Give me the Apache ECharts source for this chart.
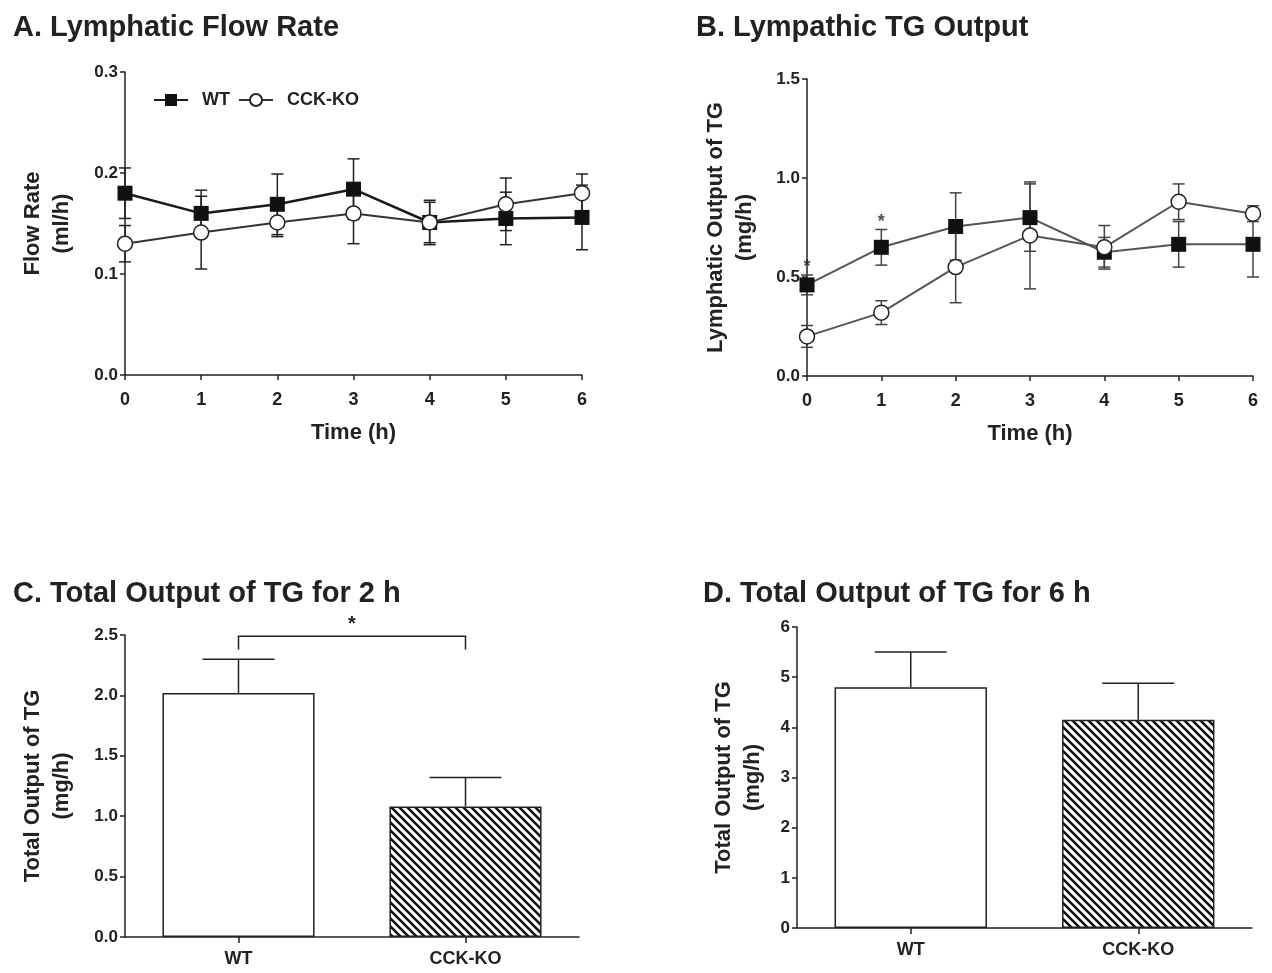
<!DOCTYPE html>
<html>
<head>
<meta charset="utf-8">
<script src="https://cdn.jsdelivr.net/npm/echarts@6/dist/echarts.min.js"></script>
<style>
html, body { margin: 0; padding: 0; background: #fff; }
#main { width: 1272px; height: 973px; }
</style>
</head>
<body>
<div id="main"></div>
<script>
// time points (h)
var hours = [0, 1, 2, 3, 4, 5, 6];

// A. lymphatic flow rate (ml/h), mean and SEM
var flowWT = [0.180, 0.160, 0.169, 0.184, 0.151, 0.155, 0.156];
var flowWTsem = [0.025, 0.023, 0.030, 0.030, 0.022, 0.026, 0.032];
var flowKO = [0.130, 0.141, 0.151, 0.160, 0.151, 0.169, 0.180];
var flowKOsem = [0.018, 0.036, 0.014, 0.030, 0.020, 0.026, 0.019];

// B. lymphatic TG output (mg/h)
var tgWT = [0.46, 0.65, 0.755, 0.80, 0.625, 0.665, 0.665];
var tgWTsem = [0.05, 0.09, 0.17, 0.17, 0.075, 0.115, 0.165];
var tgKO = [0.20, 0.32, 0.55, 0.71, 0.65, 0.88, 0.82];
var tgKOsem = [0.055, 0.06, 0.18, 0.27, 0.11, 0.09, 0.04];
var sigHours = [0, 1];

// C / D. total output of TG
var groups = ['WT', 'CCK-KO'];
var total2h = [2.02, 1.08];
var total2hSem = [0.28, 0.24];
var total6h = [4.80, 4.15];
var total6hSem = [0.70, 0.73];

var ink = '#222';
var font = 'Liberation Sans, Arial, sans-serif';

// hatch pattern for the CCK-KO bars
var hatch = document.createElement('canvas');
hatch.width = 8;
hatch.height = 8;
var hc = hatch.getContext('2d');
hc.fillStyle = '#fff';
hc.fillRect(0, 0, 8, 8);
hc.strokeStyle = '#111';
hc.lineWidth = 2.6;
hc.beginPath();
hc.moveTo(-2, -2); hc.lineTo(10, 10);
hc.moveTo(-10, -2); hc.lineTo(2, 10);
hc.moveTo(6, -2); hc.lineTo(18, 10);
hc.stroke();

function errData(xs, means, sems, upOnly) {
    return xs.map(function(x, i) {
        return [x, upOnly ? means[i] : means[i] - sems[i], means[i] + sems[i]];
    });
}

function errRender(capHalf, upOnly, col) {
    return function(params, api) {
        var x = api.value(0);
        var lo = api.coord([x, api.value(1)]);
        var hi = api.coord([x, api.value(2)]);
        var st = { stroke: col, lineWidth: 1.5 };
        var kids = [
            { type: 'line', shape: { x1: lo[0], y1: lo[1], x2: hi[0], y2: hi[1] }, style: st },
            { type: 'line', shape: { x1: hi[0] - capHalf, y1: hi[1], x2: hi[0] + capHalf, y2: hi[1] }, style: st }
        ];
        if (!upOnly) {
            kids.push({ type: 'line', shape: { x1: lo[0] - capHalf, y1: lo[1], x2: lo[0] + capHalf, y2: lo[1] }, style: st });
        }
        return { type: 'group', children: kids };
    };
}

function valAxis(idx, min, max, step, digits, name, gap) {
    return {
        type: 'value', gridIndex: idx, min: min, max: max, interval: step,
        name: name, nameLocation: 'middle', nameGap: gap, nameRotate: 90,
        nameTextStyle: { color: ink, fontFamily: font, fontWeight: 'bold', fontSize: 22, lineHeight: 29 },
        axisLine: { show: true, lineStyle: { color: ink, width: 1.5 } },
        axisTick: { show: true, length: 5, lineStyle: { color: ink, width: 1.5 } },
        axisLabel: { color: ink, fontFamily: font, fontWeight: 'bold', fontSize: 17, margin: 7,
            formatter: function(v) { return v.toFixed(digits); } },
        splitLine: { show: false }
    };
}

function timeAxis(idx) {
    return {
        type: 'value', gridIndex: idx, min: 0, max: 6, interval: 1,
        name: 'Time (h)', nameLocation: 'middle', nameGap: 47,
        nameTextStyle: { color: ink, fontFamily: font, fontWeight: 'bold', fontSize: 22 },
        axisLine: { show: true, onZero: false, lineStyle: { color: ink, width: 1.5 } },
        axisTick: { show: true, length: 5, lineStyle: { color: ink, width: 1.5 } },
        axisLabel: { color: ink, fontFamily: font, fontWeight: 'bold', fontSize: 18, margin: 16 },
        splitLine: { show: false }
    };
}

function catAxis(idx) {
    return {
        type: 'category', gridIndex: idx, data: groups,
        axisLine: { show: true, lineStyle: { color: ink, width: 1.5 } },
        axisTick: { show: true, alignWithLabel: true, length: 6, lineStyle: { color: ink, width: 1.5 } },
        axisLabel: { color: ink, fontFamily: font, fontWeight: 'bold', fontSize: 18, margin: 13 }
    };
}

function lineSeries(name, idx, ys, filled, lw, col) {
    return {
        name: name, type: 'line', xAxisIndex: idx, yAxisIndex: idx, z: 3,
        data: hours.map(function(h, i) { return [h, ys[i]]; }),
        symbol: filled ? 'rect' : 'circle', symbolSize: 15,
        lineStyle: { color: col, width: lw },
        itemStyle: { color: filled ? '#111' : '#fff', borderColor: ink, borderWidth: filled ? 0 : 1.5 }
    };
}

function errSeries(idx, xs, means, sems, upOnly, capHalf, col) {
    return {
        type: 'custom', xAxisIndex: idx, yAxisIndex: idx, z: 2, silent: true,
        data: errData(xs, means, sems, upOnly),
        renderItem: errRender(capHalf, upOnly, col || ink)
    };
}

function barSeries(idx, vals) {
    return {
        type: 'bar', xAxisIndex: idx, yAxisIndex: idx, barWidth: '67%', z: 2,
        data: vals.map(function(v, i) {
            return { value: v, itemStyle: { color: i === 0 ? '#fff' : { image: hatch, repeat: 'repeat' } } };
        }),
        itemStyle: { borderColor: ink, borderWidth: 1.5 }
    };
}

var titleStyle = { color: ink, fontFamily: font, fontWeight: 'bold', fontSize: 29 };

var myChart = echarts.init(document.getElementById('main'));
var option = {
    backgroundColor: '#fff',
    animation: false,
    title: [
        { text: 'A. Lymphatic Flow Rate', left: 8, top: 8, textStyle: titleStyle },
        { text: 'B. Lympathic TG Output', left: 691, top: 8, textStyle: titleStyle },
        { text: 'C. Total Output of TG for 2 h', left: 8, top: 574, textStyle: titleStyle },
        { text: 'D. Total Output of TG for 6 h', left: 698, top: 574, textStyle: titleStyle }
    ],
    legend: {
        left: 148, top: 86, itemWidth: 34, itemHeight: 15, itemGap: 8,
        data: ['WT', 'CCK-KO'],
        textStyle: { color: ink, fontFamily: font, fontWeight: 'bold', fontSize: 18, padding: [0, 0, 0, 9] }
    },
    grid: [
        { left: 125, right: 690, top: 72, bottom: 598, outerBoundsMode: 'none' },
        { left: 807, right: 19, top: 79, bottom: 597, outerBoundsMode: 'none' },
        { left: 125, right: 693, top: 635, bottom: 36, outerBoundsMode: 'none' },
        { left: 797, right: 20, top: 627, bottom: 45, outerBoundsMode: 'none' }
    ],
    xAxis: [timeAxis(0), timeAxis(1), catAxis(2), catAxis(3)],
    yAxis: [
        valAxis(0, 0, 0.3, 0.1, 1, 'Flow Rate\n(ml/h)', 49),
        valAxis(1, 0, 1.5, 0.5, 1, 'Lymphatic Output of TG\n(mg/h)', 48),
        valAxis(2, 0, 2.5, 0.5, 1, 'Total Output of TG\n(mg/h)', 49),
        valAxis(3, 0, 6, 1, 0, 'Total Output of TG\n(mg/h)', 30)
    ],
    series: [
        errSeries(0, hours, flowWT, flowWTsem, false, 6),
        errSeries(0, hours, flowKO, flowKOsem, false, 6),
        lineSeries('WT', 0, flowWT, true, 2.5, '#1a1a1a'),
        lineSeries('CCK-KO', 0, flowKO, false, 2, '#333'),

        errSeries(1, hours, tgWT, tgWTsem, false, 6, '#444'),
        errSeries(1, hours, tgKO, tgKOsem, false, 6, '#444'),
        lineSeries('WT', 1, tgWT, true, 2, '#555'),
        lineSeries('CCK-KO', 1, tgKO, false, 2, '#555'),
        {
            type: 'scatter', xAxisIndex: 1, yAxisIndex: 1, symbolSize: 0, silent: true,
            data: sigHours.map(function(h) { return [h, tgWT[h] + tgWTsem[h] + 0.04]; }),
            label: { show: true, formatter: '*', position: 'inside', color: ink, fontFamily: font, fontWeight: 'bold', fontSize: 18 }
        },

        barSeries(2, total2h),
        errSeries(2, [0, 1], total2h, total2hSem, true, 36),
        {
            type: 'custom', xAxisIndex: 2, yAxisIndex: 2, z: 4, silent: true,
            data: [[0, 1, 2.38, 2.49]],
            renderItem: function(params, api) {
                var a = api.coord([api.value(0), api.value(2)]);
                var b = api.coord([api.value(0), api.value(3)]);
                var c = api.coord([api.value(1), api.value(3)]);
                var d = api.coord([api.value(1), api.value(2)]);
                return {
                    type: 'group', children: [
                        { type: 'polyline', shape: { points: [a, b, c, d] }, style: { stroke: ink, lineWidth: 1.5, fill: null } },
                        { type: 'text', style: { text: '*', x: (b[0] + c[0]) / 2, y: b[1] - 2, align: 'center', verticalAlign: 'bottom',
                            fill: ink, font: 'bold 20px ' + font } }
                    ]
                };
            }
        },

        barSeries(3, total6h),
        errSeries(3, [0, 1], total6h, total6hSem, true, 36)
    ]
};
myChart.setOption(option);
</script>
</body>
</html>
